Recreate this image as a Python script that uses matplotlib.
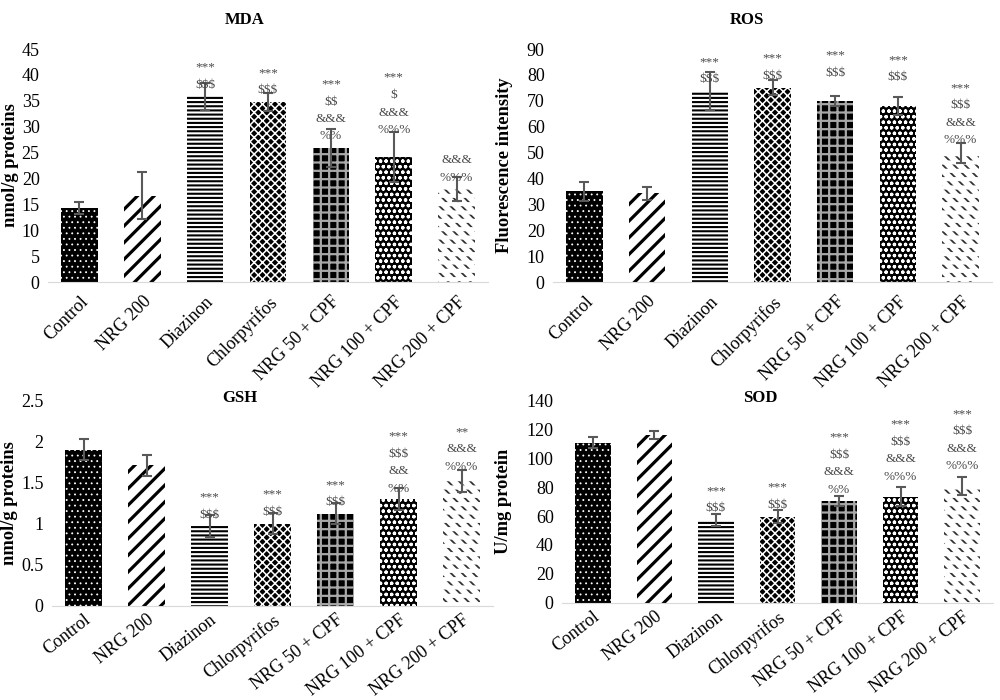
import matplotlib
matplotlib.use('Agg')
import matplotlib.pyplot as plt
import numpy as np

groups = ['Control', 'NRG 200', 'Diazinon', 'Chlorpyrifos',
          'NRG 50 + CPF', 'NRG 100 + CPF', 'NRG 200 + CPF']

# MDA
mda = [14.3, 16.7, 35.9, 34.8, 25.9, 24.2, 17.9]
mda_err = [1.1, 4.5, 2.6, 1.7, 3.6, 4.8, 2.3]
mda_sig = [[], [], ['***', '$$$'], ['***', '$$$'], ['***', '$$', '&&&', '%%'],
           ['***', '$', '&&&', '%%%'], ['&&&', '%%%']]

# ROS
ros = [35.0, 34.3, 73.8, 75.1, 69.9, 68.1, 49.8]
ros_err = [3.6, 2.6, 7.2, 3.0, 2.1, 3.5, 3.8]
ros_sig = [[], [], ['***', '$$$'], ['***', '$$$'], ['***', '$$$'], ['***', '$$$'],
           ['***', '$$$', '&&&', '%%%']]

# GSH
gsh = [1.90, 1.71, 0.97, 1.00, 1.12, 1.30, 1.52]
gsh_err = [0.13, 0.13, 0.13, 0.13, 0.13, 0.13, 0.14]
gsh_sig = [[], [], ['***', '$$$'], ['***', '$$$'], ['***', '$$$'],
           ['***', '$$$', '&&', '%%'], ['**', '&&&', '%%%']]

# SOD
sod = [110.9, 116.2, 57.3, 59.6, 70.4, 73.4, 80.8]
sod_err = [4.0, 2.5, 4.0, 4.4, 3.3, 6.5, 6.5]
sod_sig = [[], [], ['***', '$$$'], ['***', '$$$'], ['***', '$$$', '&&&', '%%'],
           ['***', '$$$', '&&&', '%%%'], ['***', '$$$', '&&&', '%%%']]

# bar fill styles: face, hatch, hatch colour, hatch width, overlay hatch
styles = [
    ('black', '...', 'white', 0.6, None),
    ('white', '//', 'black', 2.3, None),
    ('white', '----', 'black', 1.5, None),
    ('black', 'xxxx', 'white', 1.1, None),
    ('black', '++', '#a8a8a8', 1.6, None),
    ('black', 'ooo', 'white', 0.9, None),
    ('white', '\\\\\\', '#333333', 1.3, '--'),
]

plt.rcParams['font.family'] = ['Liberation Serif', 'DejaVu Serif']
plt.rcParams['text.parse_math'] = False
grey = '#4a4a4a'

fig = plt.figure(figsize=(10, 7), dpi=100)


def hatched_bar(ax, x, v, face, hatch, hcol, hlw):
    with plt.rc_context({'hatch.linewidth': hlw}):
        b = ax.bar(x, v, width=0.58, color=face, edgecolor=hcol,
                   hatch=hatch, linewidth=0)[0]
    try:
        b.set_hatch_linewidth(hlw)
    except AttributeError:
        pass


def panel(rect, vals, errs, sig, ymax, ystep, title, title_xy, ylabel,
          rot, xpad, lifts, ylabel_x):
    ax = fig.add_axes(rect)
    x = np.arange(len(groups))
    for i, v in enumerate(vals):
        face, hatch, hcol, hlw, over = styles[i]
        hatched_bar(ax, x[i], v, face, hatch, hcol, hlw)
        if over:
            hatched_bar(ax, x[i], v, 'none', over, 'white', 3.0)
    ax.errorbar(x, vals, yerr=errs, fmt='none', ecolor='#595959', elinewidth=1.5,
                capsize=3.5, capthick=1.5)
    for i, lines in enumerate(sig):
        if lines:
            ax.annotate('\n'.join(lines), (x[i], vals[i]),
                        xytext=(0, 4 + lifts[i]), textcoords='offset points',
                        ha='center', va='bottom', fontsize=9.5, color=grey,
                        linespacing=1.6, parse_math=False)
    ax.set_xlim(-0.5, len(groups) - 0.5)
    ax.set_ylim(0, ymax)
    ticks = np.arange(0, ymax + ystep / 2, ystep)
    ax.set_yticks(ticks)
    ax.set_yticklabels([f'{t:g}' for t in ticks])
    ax.set_xticks(x)
    ax.set_xticklabels(groups, rotation=rot, ha='right', rotation_mode='anchor')
    ax.tick_params(axis='both', length=0)
    ax.tick_params(axis='x', pad=xpad, labelsize=13)
    ax.tick_params(axis='y', pad=6, labelsize=13)
    for s in ['top', 'right', 'left']:
        ax.spines[s].set_visible(False)
    ax.spines['bottom'].set_color('#d9d9d9')
    ax.set_ylabel(ylabel, fontsize=13.3, fontweight='bold')
    ax.yaxis.set_label_coords(ylabel_x, 0.5)
    fig.text(title_xy[0], title_xy[1], title, ha='center', va='center',
             fontsize=12, fontweight='bold')
    return ax


panel([0.048, 0.597, 0.44, 0.333], mda, mda_err, mda_sig, 45, 5, 'MDA',
      (0.245, 0.971), 'nmol/g proteins', 45, 8, [0, 0, 0, 0, 0, 11, 0], -0.065)
panel([0.553, 0.597, 0.439, 0.333], ros, ros_err, ros_sig, 90, 10, 'ROS',
      (0.747, 0.971), 'Fluorescence intensity', 45, 8, [0, 0, 0, 0, 12, 12, 1], -0.09)
panel([0.052, 0.1347, 0.441, 0.293], gsh, gsh_err, gsh_sig, 2.5, 0.5, 'GSH',
      (0.240, 0.431), 'nmol/g proteins', 38, 4, [0, 0, 0, 0, 0, -1, 2], -0.078)
panel([0.562, 0.139, 0.431, 0.2886], sod, sod_err, sod_sig, 140, 20, 'SOD',
      (0.760, 0.431), 'U/mg protein', 38, 4, [0, 0, 0, 0, 0, 6, 6], -0.115)

fig.savefig('out.png', dpi=100)
